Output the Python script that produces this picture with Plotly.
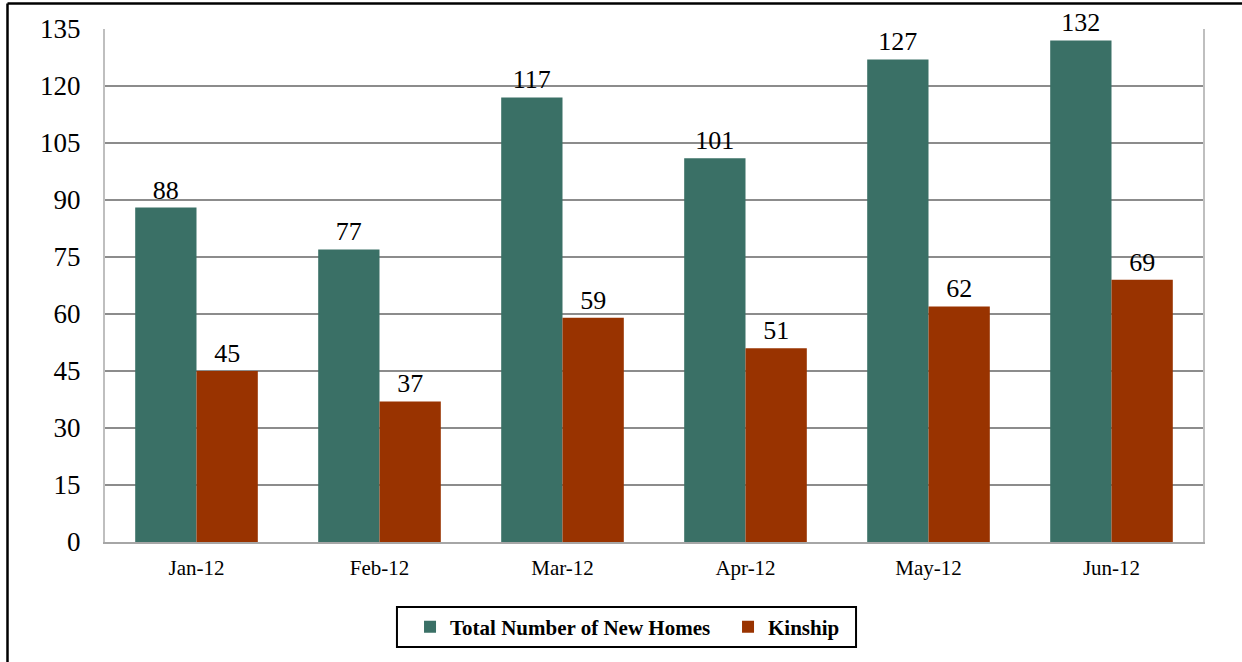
import plotly.graph_objects as go

# data
months = ["Jan-12", "Feb-12", "Mar-12", "Apr-12", "May-12", "Jun-12"]
total_new_homes = [88, 77, 117, 101, 127, 132]
kinship = [45, 37, 59, 51, 62, 69]
y_ticks = [0, 15, 30, 45, 60, 75, 90, 105, 120, 135]

GREEN = "#3A7066"
RUST = "#993300"
FONT = "Liberation Serif, Times New Roman, serif"

fig = go.Figure()

fig.add_trace(go.Bar(
    x=months, y=total_new_homes, name="Total Number of New Homes",
    marker=dict(color=GREEN, line=dict(width=0)),
    text=total_new_homes, textposition="outside",
    textfont=dict(family=FONT, size=26, color="black"),
    cliponaxis=False,
))
fig.add_trace(go.Bar(
    x=months, y=kinship, name="Kinship",
    marker=dict(color=RUST, line=dict(width=0)),
    text=kinship, textposition="outside",
    textfont=dict(family=FONT, size=26, color="black"),
    cliponaxis=False,
))

# outer frame of the picture (top and left edges only visible)
fig.add_shape(type="line", xref="paper", yref="paper",
              x0=-0.0888, x1=1.04, y0=1.0497, y1=1.0497,
              line=dict(color="black", width=2.5))
fig.add_shape(type="line", xref="paper", yref="paper",
              x0=-0.0888, x1=-0.0888, y0=1.0497, y1=-0.25,
              line=dict(color="black", width=2.5))
# legend frame
fig.add_shape(type="rect", xref="paper", yref="paper",
              x0=0.2659, x1=0.684, y0=-0.2047, y1=-0.1267,
              line=dict(color="black", width=2))

fig.update_layout(
    width=1242, height=662,
    margin=dict(l=105, r=39, t=29, b=120),
    paper_bgcolor="white", plot_bgcolor="white",
    barmode="group", bargap=0.33, bargroupgap=0,
    font=dict(family=FONT, color="black"),
    legend=dict(
        orientation="h", x=0.2778, y=-0.166,
        xanchor="left", yanchor="middle",
        borderwidth=0, bgcolor="rgba(0,0,0,0)",
        font=dict(family=FONT, size=21, color="black", weight="bold"),
        itemwidth=30, entrywidth=273, entrywidthmode="pixels",
    ),
    showlegend=True,
)

fig.update_xaxes(
    showgrid=False, showline=True, linecolor="#A6A6A6", linewidth=2,
    mirror=False, ticks="", tickfont=dict(family=FONT, size=21),
    ticklabelstandoff=6,
)
fig.update_yaxes(
    range=[0, 135], tickvals=y_ticks, showgrid=True,
    gridcolor="#8C8C8C", gridwidth=2, zeroline=False,
    showline=True, linecolor="#BFBFBF", linewidth=2, mirror=True,
    ticks="", tickfont=dict(family=FONT, size=27),
    ticklabelstandoff=17,
)

fig.write_html("out.html", config={"displayModeBar": False},
               post_script="document.body.style.margin='0';")
